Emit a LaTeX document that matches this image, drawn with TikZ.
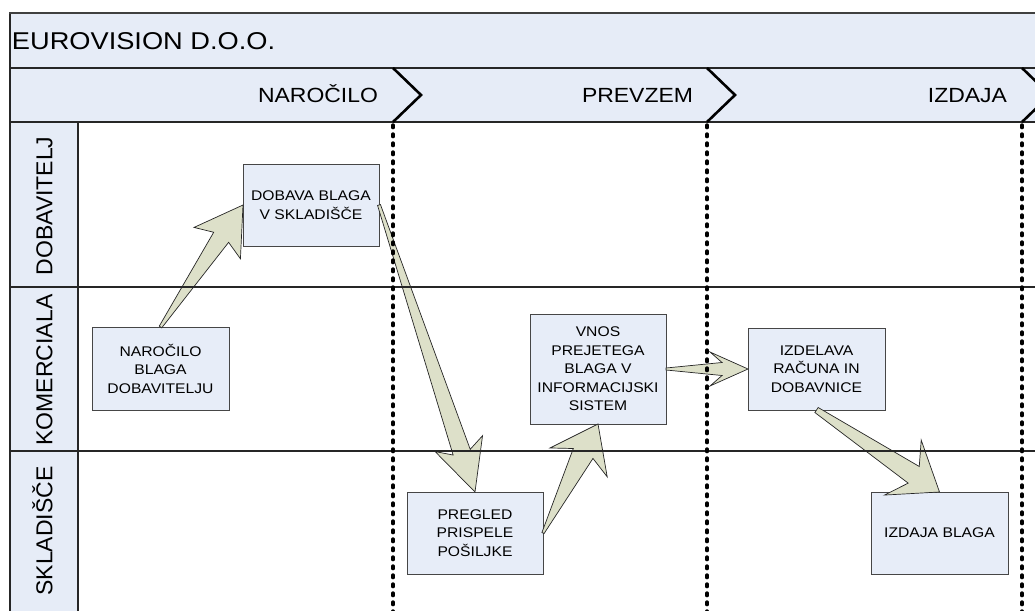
\documentclass[tikz,border=0pt]{standalone}
\usepackage{fontspec}
\setmainfont{Liberation Sans}[FakeStretch=1.12]
\newfontfamily\lanefont{Liberation Sans}
\usetikzlibrary{calc}

\definecolor{bandblue}{RGB}{230,236,247}
\definecolor{boxblue}{RGB}{231,237,248}
\definecolor{arrowolive}{RGB}{221,224,201}
\definecolor{boxline}{RGB}{70,70,70}

% tapered block arrow: tail, tip, tail half-width, body half-width,
% distance of body joint from tip, head length, head half-width
\newcommand\flowarrow[7]{%
  \coordinate (fa-j) at ($(#2)!#5!(#1)$);
  \coordinate (fa-h) at ($(#2)!#6!(#1)$);
  \draw[blockarrow]
    ($(#1)!#3!90:(#2)$) -- ($(fa-j)!#4!90:(#2)$) -- ($(fa-h)!#7!90:(#2)$)
    -- (#2)
    -- ($(fa-h)!#7!-90:(#2)$) -- ($(fa-j)!#4!-90:(#2)$) -- ($(#1)!#3!-90:(#2)$)
    -- cycle;
}

\begin{document}
\begin{tikzpicture}[x=1pt,y=-1pt,
  every node/.style={inner sep=0pt,outer sep=0pt},
  procbox/.style={draw=boxline,line width=1pt,fill=boxblue,align=center,
    minimum width=136pt,minimum height=82pt,
    font=\fontsize{14}{18.5}\selectfont},
  blockarrow/.style={draw=black!85,line width=0.7pt,fill=arrowolive,line join=miter},
  titletext/.style={font=\fontsize{24.3}{28}\selectfont,text height=17.4pt,text depth=0pt},
  phasetext/.style={font=\fontsize{20.5}{24}\selectfont,text height=14.7pt,text depth=0pt},
  lanetext/.style={font=\lanefont\fontsize{23}{26}\selectfont,text height=16.5pt,text depth=0pt,rotate=90},
  rule/.style={draw=black!85,line width=1.3pt},
  toprule/.style={draw=black!75,line width=2pt},
  chevron/.style={draw=black,line width=2.6pt,line join=miter},
  phasesep/.style={draw=black,line width=3.4pt,line cap=round,dash pattern=on 2.6pt off 6.4pt}]

\useasboundingbox (0,0) rectangle (1035,610);
\clip (0,0) rectangle (1035,610);

% header bands and lane label column
\fill[bandblue] (10,13) rectangle (1045,122);
\fill[bandblue] (10,122) rectangle (78,620);

% header texts
\node[titletext,anchor=west] (company) at (12,41) {EUROVISION D.O.O.};
\node[phasetext,anchor=east] (ph-order) at (378,95) {NAROČILO};
\node[phasetext,anchor=east] (ph-receive) at (693,95) {PREVZEM};
\node[phasetext,anchor=east] (ph-issue) at (1007,95) {IZDAJA};

% lane labels
\node[lanetext] (lane-sup) at (44,206) {DOBAVITELJ};
\node[lanetext] (lane-com) at (44,370) {KOMERCIALA};
\node[lanetext] (lane-whs) at (44,531) {SKLADIŠČE};

% activities
\node[procbox,minimum width=137pt,minimum height=83pt] (order) at (160.5,368.5) {NAROČILO\\BLAGA\\DOBAVITELJU};
\node[procbox] (supply) at (311,205) {DOBAVA BLAGA\\V SKLADIŠČE};
\node[procbox] (check) at (475,533) {PREGLED\\PRISPELE\\POŠILJKE};
\node[procbox,minimum height=110pt] (entry) at (598,369) {VNOS\\PREJETEGA\\BLAGA V\\INFORMACIJSKI\\SISTEM};
\node[procbox,minimum width=137pt] (invoice) at (816.5,369) {IZDELAVA\\RAČUNA IN\\DOBAVNICE};
\node[procbox,minimum width=137pt] (issue) at (939.5,533) {IZDAJA BLAGA};

% flow between activities
\flowarrow{order.north}{supply.west}{1.5pt}{9pt}{39pt}{46pt}{28pt}
\flowarrow{supply.east}{check.north}{1.5pt}{9pt}{42pt}{51pt}{25pt}
\flowarrow{check.east}{entry.south}{1.2pt}{11pt}{33pt}{43pt}{32pt}
\flowarrow{entry.east}{invoice.west}{1pt}{6.5pt}{26pt}{38pt}{17pt}
\flowarrow{invoice.south}{issue.north}{3pt}{10pt}{31pt}{44pt}{33pt}

% frame and lane separators
\draw[rule] (10,68) -- (1045,68);
\draw[rule] (10,122) -- (1045,122);
\draw[rule] (78,122) -- (78,620);
\draw[rule] (10,287) -- (1045,287);
\draw[rule] (10,451) -- (1045,451);
\draw[rule] (10,620) -- (10,13);
\draw[toprule] (9,13) -- (1045,13);

% phase chevrons and phase boundaries
\foreach \px in {393,707,1022}{
  \draw[chevron] (\px,68) -- (\px+28,95) -- (\px,122);
  \draw[phasesep] (\px,125) -- (\px,615);
}
\end{tikzpicture}
\end{document}
